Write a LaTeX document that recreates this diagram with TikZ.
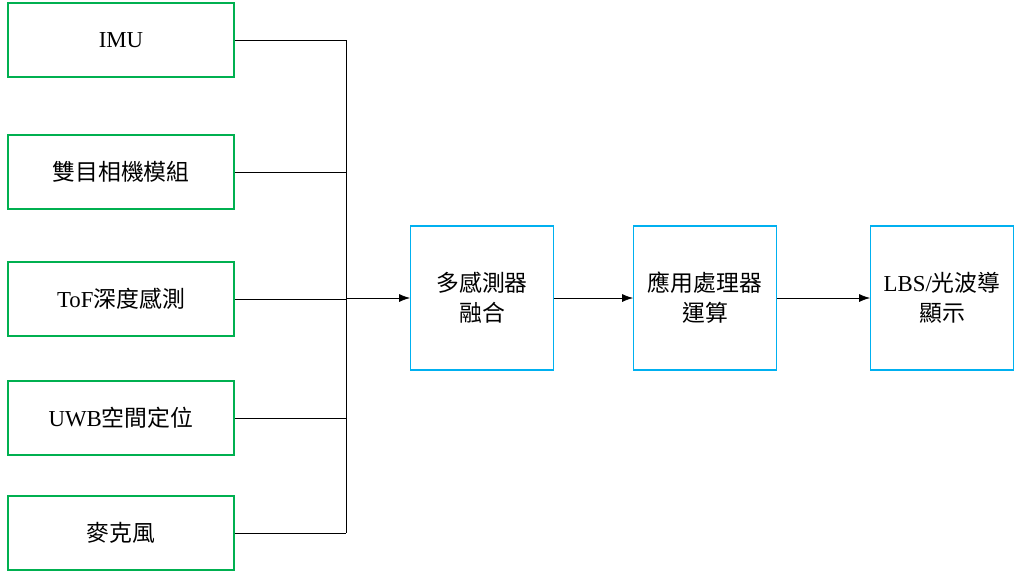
\documentclass[tikz,border=0pt]{standalone}
\usepackage{fontspec}
\setmainfont{Liberation Serif}
\newfontfamily\cjk{Noto Sans CJK TC}
\usetikzlibrary{arrows.meta}
\definecolor{boxgreen}{RGB}{0,176,80}
\definecolor{boxblue}{RGB}{0,176,240}

\begin{document}
\begin{tikzpicture}[x=0.02cm,y=-0.02cm,
	sensor/.style={draw=boxgreen,thick,minimum width=4.52cm,minimum height=1.48cm,font=\fontsize{13}{16}\selectfont},
	stage/.style={draw=boxblue,thick,minimum width=2.85cm,minimum height=2.88cm,align=center,font=\fontsize{13}{17}\selectfont},
	link/.style={-{Latex[length=2.2mm,width=1.6mm]},thin}]
	\useasboundingbox (0,0) rectangle (1024,578);
	
	\node[sensor] (imu) at (121,40) {IMU};
	\node[sensor] (cam) at (121,172) {\cjk 雙目相機模組};
	\node[sensor] (tof) at (121,299) {ToF\cjk 深度感測};
	\node[sensor] (uwb) at (121,418) {UWB\cjk 空間定位};
	\node[sensor] (mic) at (121,533) {\cjk 麥克風};
	
	\node[stage] (fuse) at (482,298) {\cjk 多感測器\\\cjk 融合};
	\node[stage] (proc) at (705,298) {\cjk 應用處理器\\\cjk 運算};
	\node[stage] (disp) at (942,298) {LBS/\cjk 光波導\\\cjk 顯示};
	
	\coordinate (top) at (346,40);
	\coordinate (bot) at (346,533);
	\coordinate (mid) at (346,298);
	
	% bus
	\draw (top) -- (bot);
	\draw (imu.east) -- (top);
	\draw (cam.east) -- (cam.east -| top);
	\draw (tof.east) -- (tof.east -| top);
	\draw (uwb.east) -- (uwb.east -| top);
	\draw (mic.east) -- (bot);
	
	\draw[link] (mid) -- (fuse);
	\draw[link] (fuse) -- (proc);
	\draw[link] (proc) -- (disp);
\end{tikzpicture}
\end{document}
